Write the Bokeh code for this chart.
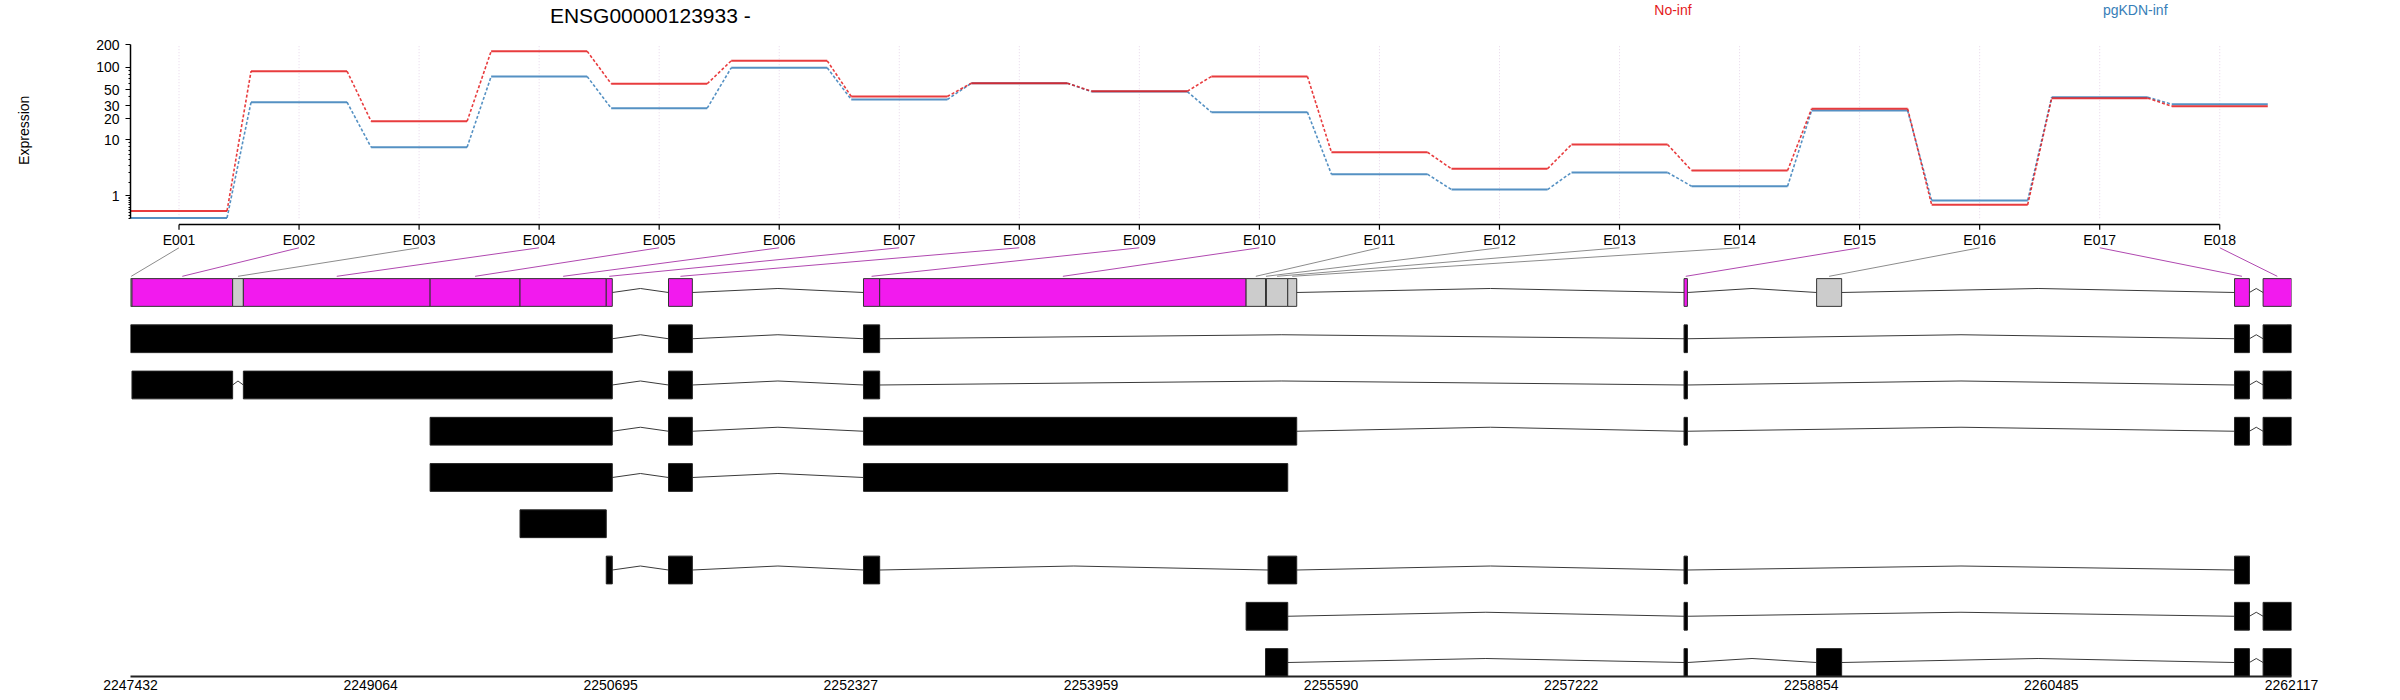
import math
from bokeh.plotting import figure
from bokeh.layouts import row
from bokeh.models import (Range1d, LinearAxis, FixedTicker, CustomJSTickFormatter,
                          BasicTickFormatter, Label)
from bokeh.core.properties import value
from bokeh.embed import file_html
from bokeh.resources import INLINE

# ---------------- data ----------------
gene_title = "ENSG00000123933 -"
y_label = "Expression"
conditions = ["No-inf", "pgKDN-inf"]
cond_colors = ["#E41A1C", "#377EB8"]

exon_ids = ["E001", "E002", "E003", "E004", "E005", "E006", "E007", "E008", "E009",
            "E010", "E011", "E012", "E013", "E014", "E015", "E016", "E017", "E018"]
exon_start = [2247432, 2247442, 2248126, 2248199, 2249468, 2250079, 2250665, 2251088, 2252413,
              2252523, 2255013, 2255145, 2255151, 2255296, 2257989, 2258890, 2261730, 2261924]
exon_end = [2247442, 2248126, 2248199, 2249468, 2250079, 2250665, 2250706, 2251250, 2252523,
            2255013, 2255145, 2255151, 2255296, 2255357, 2258012, 2259060, 2261831, 2262117]
exon_sig = [False, True, False, True, True, True, True, True, True,
            True, False, False, False, False, True, False, True, True]

expr_noinf = [0.25, 88.5, 18.4, 164, 60, 122, 40.3, 61.1, 47.6,
              75.2, 6.52, 3.53, 8.52, 3.30, 27.4, 0.51, 38.3, 29.7]
expr_pgkdn = [0.01, 33.7, 7.77, 75.2, 27.9, 98.4, 36.7, 61.0, 47.0,
              24.6, 2.84, 1.40, 3.05, 1.66, 25.9, 0.72, 39.4, 31.6]

# transcripts (rows 2..9), exons as genomic start / end
tx_starts = [
    [2247432, 2251088, 2252413, 2257989, 2261730, 2261924],
    [2247442, 2248199, 2251088, 2252413, 2257989, 2261730, 2261924],
    [2249468, 2251088, 2252413, 2257989, 2261730, 2261924],
    [2249468, 2251088, 2252413],
    [2250079],
    [2250665, 2251088, 2252413, 2255162, 2257989, 2261730],
    [2255013, 2257989, 2261730, 2261924],
    [2255145, 2257989, 2258890, 2261730, 2261924],
]
tx_ends = [
    [2250706, 2251250, 2252523, 2258012, 2261831, 2262117],
    [2248126, 2250706, 2251250, 2252523, 2258012, 2261831, 2262117],
    [2250706, 2251250, 2255357, 2258012, 2261831, 2262117],
    [2250706, 2251250, 2255296],
    [2250665],
    [2250706, 2251250, 2252523, 2255357, 2258012, 2261831],
    [2255296, 2258012, 2261831, 2262117],
    [2255296, 2258012, 2259060, 2261831, 2262117],
]

genomic_ticks = [2247432, 2249064, 2250695, 2252327, 2253959, 2255590, 2257222,
                 2258854, 2260485, 2262117]
y_major_vals = [1, 10, 20, 30, 50, 100, 200]
y_minor_vals = [0, 0.1, 0.2, 0.3, 0.4, 0.5, 0.6, 0.7, 0.8, 0.9,
                2, 3, 4, 5, 6, 7, 8, 9, 40, 60, 70, 80, 90]

# ---------------- style ----------------
FONT = "Liberation Sans"
SIG_COL = "#F21AEE"
NONSIG_COL = "#CCCCCC"
SIG_LINE = "#B048B0"
NONSIG_LINE = "#8C8C8C"


def tr(v):
    return math.log10(v + 1.0)


H = 698
LW = 60                 # width of the strip holding the y title
W = 2400 - LW
g0, g1 = genomic_ticks[0], genomic_ticks[-1]
ex0, ex1 = 0.5959, 18.5977

# ---- strip with the rotated axis title ----
lab = figure(width=LW, height=H, output_backend="svg", toolbar_location=None,
             x_range=Range1d(0, LW), y_range=Range1d(0, H),
             x_axis_location=None, y_axis_location=None,
             min_border_left=0, min_border_right=0, min_border_top=0, min_border_bottom=0)
lab.outline_line_color = None
lab.xgrid.visible = False
lab.ygrid.visible = False
lab.text(x=[23], y=[H - 134], text=[y_label], angle=math.pi / 2,
         text_align="center", text_baseline="middle",
         text_font=value(FONT), text_font_size="14px", text_color="black")

# ---- main figure ----
p = figure(width=W, height=H, output_backend="svg", toolbar_location=None,
           x_range=Range1d(g0, g1), y_range=Range1d(9.3027, -5.3135),
           y_axis_location=None,
           min_border_left=130 - LW, min_border_right=109, min_border_top=0, min_border_bottom=22)
p.extra_x_ranges = {"exon": Range1d(ex0, ex1)}
p.extra_y_ranges = {"expr": Range1d(-6.0863, 2.8911)}
p.outline_line_color = None
p.xgrid.visible = False
p.ygrid.visible = False

# genomic axis (bottom)
xa = p.xaxis[0]
xa.ticker = FixedTicker(ticks=genomic_ticks, minor_ticks=[])
xa.formatter = BasicTickFormatter(use_scientific=False)
xa.major_tick_out = 0
xa.major_tick_in = 0
xa.minor_tick_out = 0
xa.minor_tick_in = 0
xa.major_tick_line_color = None
xa.minor_tick_line_color = None
xa.axis_line_width = 2
xa.axis_line_color = "#222222"
xa.major_label_standoff = 3
xa.major_label_text_font = FONT
xa.major_label_text_font_size = "14px"
xa.major_label_text_color = "black"

# expression axis (left)
tmax = tr(200)
ya = LinearAxis(y_range_name="expr", bounds=(0, tmax),
                ticker=FixedTicker(ticks=[tr(v) for v in y_major_vals],
                                   minor_ticks=[tr(v) for v in y_minor_vals]),
                formatter=CustomJSTickFormatter(code="return String(Math.round(Math.pow(10, tick) - 1));"))
ya.major_tick_out = 5
ya.major_tick_in = 0
ya.minor_tick_out = 2
ya.minor_tick_in = 0
ya.axis_line_width = 1.5
ya.major_tick_line_width = 1.2
ya.major_label_standoff = 6
ya.major_label_text_font = FONT
ya.major_label_text_font_size = "14px"
ya.major_label_text_color = "black"
p.add_layout(ya, "left")

idx = list(range(1, len(exon_ids) + 1))

# vertical grid lines
p.segment(x0=idx, y0=[0] * len(idx), x1=idx, y1=[tmax] * len(idx),
          x_range_name="exon", y_range_name="expr",
          line_color="#E6D6EA", line_width=1, line_dash="1 2")

# expression profiles
for vals, col in zip([expr_pgkdn, expr_noinf], [cond_colors[1], cond_colors[0]]):
    t = [tr(v) for v in vals]
    p.segment(x0=[i - 0.4 for i in idx], y0=t, x1=[i + 0.4 for i in idx], y1=t,
              x_range_name="exon", y_range_name="expr",
              line_color=col, line_width=2, line_alpha=0.85)
    p.segment(x0=[i + 0.4 for i in idx[:-1]], y0=t[:-1], x1=[i + 0.6 for i in idx[:-1]], y1=t[1:],
              x_range_name="exon", y_range_name="expr",
              line_color=col, line_width=1.6, line_alpha=0.85, line_dash="3 2")

# exon-index axis
t_axis, t_tick, t_lab = -0.0837, -0.154, -0.287
p.segment(x0=[idx[0]], y0=[t_axis], x1=[idx[-1]], y1=[t_axis],
          x_range_name="exon", y_range_name="expr", line_color="black", line_width=1.5)
p.segment(x0=idx, y0=[t_axis] * len(idx), x1=idx, y1=[t_tick] * len(idx),
          x_range_name="exon", y_range_name="expr", line_color="black", line_width=1.2)
for i, name in zip(idx, exon_ids):
    p.add_layout(Label(x=i, y=t_lab, text=name, x_range_name="exon", y_range_name="expr",
                       text_align="center", text_baseline="middle", text_font=FONT,
                       text_font_size="14px", text_color="black"))

# title & legend
p.add_layout(Label(x=4.926, y=2.692, text=gene_title, x_range_name="exon", y_range_name="expr",
                   text_align="center", text_baseline="middle", text_font=FONT,
                   text_font_size="21px", text_color="black"))
for name, col, xc in zip(conditions, cond_colors, [13.445, 17.296]):
    p.add_layout(Label(x=xc, y=2.77, text=name, x_range_name="exon", y_range_name="expr",
                       text_align="center", text_baseline="middle", text_font=FONT,
                       text_font_size="14px", text_color=col))

# connectors from exon index to genomic bin
half = 0.3
r_top, r_bot = 0.033, 1 - half - 0.05
def ex_to_gen(i):
    return g0 + (i - ex0) * (g1 - g0) / (ex1 - ex0)
centers = [(s + e) / 2 for s, e in zip(exon_start, exon_end)]
p.segment(x0=[ex_to_gen(i) for i in idx], y0=[r_top] * len(idx), x1=centers, y1=[r_bot] * len(idx),
          line_color=[SIG_LINE if s else NONSIG_LINE for s in exon_sig], line_width=1)

# intron "hats"
hat_h = 4 / 46.25
def hats(starts, ends, rw):
    xs, ys = [], []
    order = sorted(zip(starts, ends))
    for (s0, e0), (s1, e1) in zip(order[:-1], order[1:]):
        if s1 > e0:
            xs.append([e0, (e0 + s1) / 2, s1])
            ys.append([rw, rw - hat_h, rw])
    return xs, ys

# row 1: exon bins
hx, hy = hats(exon_start, exon_end, 1)
p.multi_line(xs=hx, ys=hy, line_color="#3a3a3a", line_width=1)
p.quad(left=exon_start, right=exon_end, top=[1 - half] * len(exon_start), bottom=[1 + half] * len(exon_start),
       fill_color=[SIG_COL if s else NONSIG_COL for s in exon_sig],
       line_color="#333333", line_width=1)

# transcripts
for k, (ss, ee) in enumerate(zip(tx_starts, tx_ends)):
    rw = k + 2
    hx, hy = hats(ss, ee, rw)
    if hx:
        p.multi_line(xs=hx, ys=hy, line_color="#3a3a3a", line_width=1)
    p.quad(left=ss, right=ee, top=[rw - half] * len(ss), bottom=[rw + half] * len(ss),
           fill_color="black", line_color="#222222", line_width=1)

layout = row(lab, p)
open("out.html", "w").write(file_html(layout, INLINE))
